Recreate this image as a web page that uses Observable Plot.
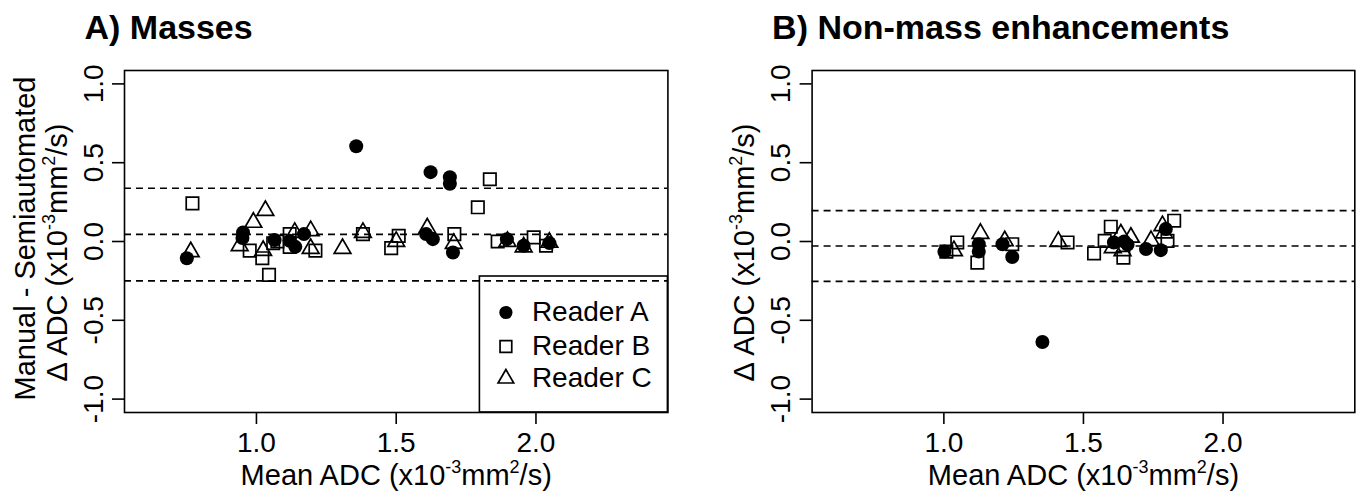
<!DOCTYPE html>
<html><head><meta charset="utf-8">
<script src="https://cdn.jsdelivr.net/npm/d3@7"></script>
<script src="https://cdn.jsdelivr.net/npm/@observablehq/plot@0.6"></script>
<style>
body{margin:0;background:#fff;}
#wrap{position:relative;width:1361px;height:495px;display:flex;background:#fff;}
#wrap svg{overflow:visible;}
</style></head><body><div id="wrap"></div>
<script>
// ---- data ----
const readers = ["Reader A", "Reader B", "Reader C"];
const xTicks = [1.0, 1.5, 2.0];
const yTicks = [-1.0, -0.5, 0.0, 0.5, 1.0];
const panelTitles = ["A) Masses", "B) Non-mass enhancements"];
const xTitle = "Mean ADC (x10^-3^mm^2^/s)";
const yTitleTop = "Manual - Semiautomated";
const yTitle = "\u0394 ADC (x10^-3^mm^2^/s)";

// Panel A: masses — [mean ADC, difference]
const massesReaderA = [[0.751,-0.106],[0.952,0.057],[0.950,0.022],[1.065,0.009],[1.119,0.004],[1.139,-0.034],[1.170,0.047],[1.357,0.604],[1.607,0.047],[1.623,0.440],[1.631,0.015],[1.692,0.408],[1.692,0.366],[1.703,-0.070],[1.896,0.015],[1.956,-0.027],[2.048,-0.010]];
const massesReaderB = [[0.771,0.242],[0.976,-0.058],[1.021,-0.106],[1.045,-0.212],[1.060,-0.011],[1.075,0.000],[1.119,0.047],[1.119,-0.034],[1.211,-0.058],[1.381,0.047],[1.482,-0.042],[1.509,0.036],[1.708,0.047],[1.792,0.217],[1.835,0.395],[1.863,0.000],[1.992,0.026],[2.036,-0.027]];
const massesReaderC = [[0.765,-0.066],[0.940,-0.027],[0.989,0.121],[1.032,0.196],[1.024,-0.058],[1.137,0.057],[1.194,0.068],[1.194,-0.045],[1.308,-0.045],[1.381,0.057],[1.500,0.000],[1.611,0.085],[1.706,-0.013],[1.898,0.000],[1.956,-0.035],[2.048,-0.006]];
const massesLimits = [-0.250, 0.045, 0.338];

// Panel B: non-mass enhancements
const nmeReaderA = [[1.002,-0.064],[1.125,-0.017],[1.125,-0.064],[1.210,-0.017],[1.245,-0.098],[1.353,-0.638],[1.609,-0.006],[1.646,0.000],[1.658,-0.020],[1.724,-0.048],[1.777,-0.055],[1.795,0.079]];
const nmeReaderB = [[1.009,-0.064],[1.048,-0.006],[1.120,-0.134],[1.245,-0.017],[1.443,-0.006],[1.538,-0.076],[1.576,0.004],[1.598,0.094],[1.643,-0.102],[1.801,0.004],[1.825,0.132]];
const nmeReaderC = [[1.036,-0.059],[1.131,0.051],[1.218,0.004],[1.410,0.000],[1.605,-0.040],[1.634,0.047],[1.640,-0.059],[1.670,0.026],[1.742,0.005],[1.783,0.100],[1.789,0.054]];
const nmeLimits = [-0.253, -0.029, 0.196];

// ---- drawing ----
const FONT = "'Liberation Sans', Arial, Helvetica, sans-serif";
const H = 495, MT = 70, MB = 83;
const R_CIRCLE = 7, R_SQUARE = 7, R_TRIANGLE = 6.2;

function supify(svg) {
  svg.querySelectorAll("text").forEach(t => {
    const s = t.textContent;
    if (!s.includes("^")) return;
    const fs = parseFloat(getComputedStyle(t).fontSize) || 28;
    const parts = s.split("^");
    while (t.firstChild) t.removeChild(t.firstChild);
    let up = false;
    parts.forEach((p, i) => {
      if (!p) { return; }
      const sp = document.createElementNS("http://www.w3.org/2000/svg", "tspan");
      const isSup = i % 2 === 1;
      if (isSup) {
        sp.setAttribute("font-size", (fs * 0.62) + "px");
        if (!up) sp.setAttribute("dy", (-fs * 0.42) + "px");
        up = true;
      } else if (up) {
        sp.setAttribute("dy", (fs * 0.42) + "px");
        up = false;
      }
      sp.textContent = p;
      t.appendChild(sp);
    });
  });
}

function panel({title, A, B, C, limits, width, ml, mr, manual, legend}) {
  const pts = (arr) => arr.map(([x, y]) => ({x, y}));
  const marks = [
    Plot.ruleY(limits, {stroke: "black", strokeWidth: 1.6, strokeDasharray: "7,5"}),
    Plot.dot(pts(C), {x: "x", y: "y", symbol: "triangle", r: R_TRIANGLE, fill: "none", stroke: "black", strokeWidth: 1.7}),
    Plot.dot(pts(B), {x: "x", y: "y", symbol: "square", r: R_SQUARE, fill: "none", stroke: "black", strokeWidth: 1.7}),
    Plot.dot(pts(A), {x: "x", y: "y", symbol: "circle", r: R_CIRCLE, fill: "black", stroke: "none"}),
    Plot.frame({stroke: "black", strokeWidth: 1.6}),
    Plot.axisX(xTicks, {tickSize: 12, tickPadding: 8, strokeWidth: 1.6, tickFormat: d => d.toFixed(1), label: null, fontSize: 28}),
    Plot.axisY(yTicks, {tickSize: 12, tickPadding: 10, tickRotate: -90, strokeWidth: 1.6, tickFormat: d => d.toFixed(1), label: null, fontSize: 28}),
    Plot.text([xTitle], {frameAnchor: "bottom", dy: 63, lineAnchor: "middle", textAnchor: "middle", fontSize: 29, fill: "black"}),
    Plot.text([yTitle], {frameAnchor: "left", rotate: -90, dx: -67, dy: 11, lineAnchor: "middle", textAnchor: "middle", fontSize: 29, fill: "black"}),
    Plot.text([title], {frameAnchor: "top-left", dx: -40, dy: -42, lineAnchor: "middle", textAnchor: "start", fontSize: 34, fontWeight: "bold", fill: "black"})
  ];
  if (manual) marks.push(Plot.text([yTitleTop], {frameAnchor: "left", rotate: -90, dx: -99, dy: -3, lineAnchor: "middle", textAnchor: "middle", fontSize: 29, fill: "black"}));
  if (legend) {
    const sym = ["circle", "square", "triangle"];
    const rr = [6.6, 6.6, 5.8];
    const dys = [-100, -66, -34];
    readers.forEach((lab, i) => {
      marks.push(Plot.dot([lab], {frameAnchor: "bottom-right", dx: -162, dy: dys[i], symbol: sym[i], r: rr[i],
        fill: i === 0 ? "black" : "none", stroke: i === 0 ? "none" : "black", strokeWidth: 1.7}));
      marks.push(Plot.text([lab], {frameAnchor: "bottom-right", dx: -136, dy: dys[i], lineAnchor: "middle", textAnchor: "start", fontSize: 28, fill: "black"}));
    });
  }
  const svg = Plot.plot({
    width, height: H,
    marginLeft: ml, marginRight: mr, marginTop: MT, marginBottom: MB,
    x: {domain: [0.528, 2.472]},
    y: {domain: [-1.085, 1.085]},
    style: {fontFamily: FONT, fontSize: "28px", color: "black", background: "white", overflow: "visible"},
    marks
  });
  if (legend) {
    const fr = width - mr;
    const fb = H - MB;
    d3.select(svg).append("rect")
      .attr("x", fr - 188).attr("y", fb - 136)
      .attr("width", 188).attr("height", 136)
      .attr("fill", "none").attr("stroke", "black").attr("stroke-width", 1.6);
  }
  return svg;
}

const wrap = document.getElementById("wrap");
const svgA = panel({title: panelTitles[0], A: massesReaderA, B: massesReaderB, C: massesReaderC, limits: massesLimits,
  width: 680, ml: 124, mr: 12.6, manual: true, legend: true});
const svgB = panel({title: panelTitles[1], A: nmeReaderA, B: nmeReaderB, C: nmeReaderC, limits: nmeLimits,
  width: 681, ml: 131.6, mr: 6.7, manual: false, legend: false});
wrap.appendChild(svgA);
wrap.appendChild(svgB);
supify(svgA);
supify(svgB);
</script>
</body></html>
